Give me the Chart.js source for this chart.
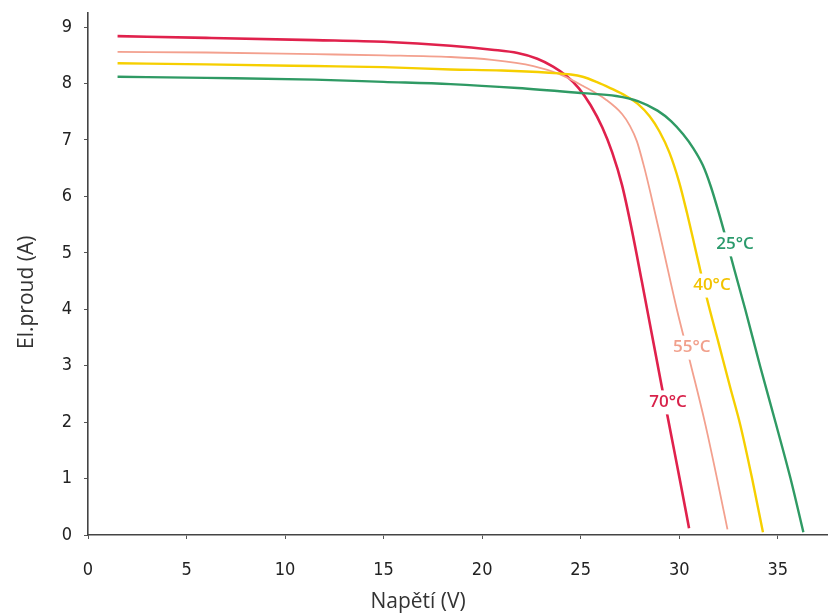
<!DOCTYPE html>
<html lang="cs">
<head>
<meta charset="utf-8">
<title>VA charakteristika</title>
<script src="https://cdn.jsdelivr.net/npm/chart.js@4/dist/chart.umd.min.js"></script>
<style>
  html, body { margin: 0; padding: 0; background: #fff; }
  #wrap { width: 830px; height: 616px; }
</style>
</head>
<body>
<div id="wrap"><canvas id="chart" width="830" height="616"></canvas></div>
<script>
"use strict";

// I-V curves of a PV module at four cell temperatures
const v25 = [1.5, 6, 11.5, 15, 18.4, 21.8, 25.1, 26.8, 27.9, 28.9, 29.6, 30.2, 30.7, 31.2, 31.6, 32.0, 32.4, 32.8, 33.35, 34.1, 34.9, 35.65, 36.3];
const i25 = [8.12, 8.10, 8.07, 8.03, 7.99, 7.92, 7.83, 7.78, 7.69, 7.52, 7.33, 7.10, 6.86, 6.55, 6.18, 5.72, 5.22, 4.70, 4.00, 3.00, 1.98, 1.00, 0.05];

const v40 = [1.5, 6, 11.5, 15, 18.4, 21, 23.4, 24.5, 25.1, 25.8, 26.5, 27.3, 27.9, 28.5, 29.0, 29.5, 30.0, 30.4, 30.8, 31.4, 32.0, 32.6, 33.1, 33.7, 34.25];
const i40 = [8.36, 8.34, 8.31, 8.29, 8.25, 8.23, 8.19, 8.16, 8.12, 8.03, 7.92, 7.78, 7.64, 7.42, 7.15, 6.78, 6.25, 5.70, 5.10, 4.20, 3.40, 2.60, 1.95, 1.00, 0.05];

const v55 = [1.5, 6, 11.5, 15, 18.4, 20.5, 22.6, 23.9, 25.1, 26.3, 27.1, 27.5, 27.85, 28.2, 28.55, 29.2, 29.88, 30.6, 31.3, 31.92, 32.45];
const i55 = [8.56, 8.55, 8.52, 8.50, 8.47, 8.42, 8.31, 8.17, 7.96, 7.71, 7.46, 7.25, 6.98, 6.55, 6.05, 5.05, 4.00, 3.00, 2.00, 1.00, 0.10];

const v70 = [1.5, 6, 11.5, 15, 18.4, 20.5, 21.8, 22.8, 23.6, 24.3, 24.9, 25.5, 26.1, 26.6, 27.1, 27.6, 28.1, 28.6, 29.1, 29.6, 30.05, 30.5];
const i70 = [8.84, 8.81, 8.77, 8.74, 8.67, 8.60, 8.54, 8.44, 8.30, 8.13, 7.92, 7.62, 7.22, 6.78, 6.20, 5.40, 4.50, 3.58, 2.66, 1.76, 0.95, 0.12];

// curve labels, anchored in data units (V, A)
const labelText = ["25°C", "40°C", "55°C", "70°C"];
const labelV = [32.83, 31.66, 30.64, 29.43];
const labelI = [5.15, 4.42, 3.32, 2.35];

const lineColors = ["#2f9a64", "#f6cf00", "#f3a08e", "#e0214c"];
const textColors = ["#2a9a6c", "#f2c300", "#f1a08c", "#d8224a"];
const widths = [2.4, 2.4, 1.8, 2.6];

const xTitle = "Napětí (V)";
const yTitle = "El.proud (A)";

const pts = (vs, is) => vs.map((v, k) => ({ x: v, y: is[k] }));
const series = [pts(v25, i25), pts(v40, i40), pts(v55, i55), pts(v70, i70)];

const curveLabels = {
  id: "curveLabels",
  afterDatasetsDraw(chart) {
    const { ctx, scales: { x, y } } = chart;
    ctx.save();
    ctx.font = "600 17px 'Open Sans', sans-serif";
    ctx.textAlign = "center";
    ctx.textBaseline = "middle";
    labelText.forEach((t, k) => {
      const px = x.getPixelForValue(labelV[k]);
      const py = y.getPixelForValue(labelI[k]);
      const w = ctx.measureText(t).width;
      ctx.fillStyle = "#fff";
      ctx.fillRect(px - w / 2 - 2, py - 12, w + 4, 24);
      ctx.fillStyle = textColors[k];
      ctx.fillText(t, px, py);
    });
    ctx.restore();
  },
};

const axisTitles = {
  id: "axisTitles",
  afterDraw(chart) {
    const { ctx, scales: { x, y } } = chart;
    ctx.save();
    ctx.fillStyle = "#333";
    ctx.font = "21px 'Open Sans', sans-serif";
    ctx.textAlign = "center";
    ctx.textBaseline = "middle";
    ctx.fillText(xTitle, x.getPixelForValue(16.75), 602);
    ctx.translate(27, y.getPixelForValue(4.3));
    ctx.rotate(-Math.PI / 2);
    ctx.fillText(yTitle, 0, 0);
    ctx.restore();
  },
};

const tickFont = { family: "'DejaVu Sans Condensed', 'Liberation Sans Narrow', sans-serif", size: 18 };

new Chart(document.getElementById("chart"), {
  type: "line",
  data: {
    datasets: series.map((d, k) => ({
      label: labelText[k],
      data: d,
      borderColor: lineColors[k],
      borderWidth: widths[k],
      pointRadius: 0,
      fill: false,
      cubicInterpolationMode: "monotone",
    })),
  },
  options: {
    responsive: false,
    animation: false,
    events: [],
    layout: { padding: { top: 13, right: 3, left: 0, bottom: 0 } },
    plugins: { legend: { display: false }, tooltip: { enabled: false } },
    scales: {
      x: {
        type: "linear",
        min: 0,
        max: 37.5,
        border: { color: "#444", width: 1.6 },
        grid: { drawOnChartArea: false, tickLength: 4, color: "#555" },
        ticks: { stepSize: 5, includeBounds: false, color: "#222", font: tickFont, padding: 21, maxRotation: 0 },
        afterFit: (s) => { s.height = 81; s.paddingLeft = 0; s.paddingRight = 0; },
      },
      y: {
        min: 0,
        max: 9.25,
        border: { color: "#444", width: 1.6 },
        grid: { drawOnChartArea: false, tickLength: 4, color: "#555" },
        ticks: { stepSize: 1, includeBounds: false, color: "#222", font: tickFont, padding: 12 },
        afterFit: (s) => { s.width = 88; s.paddingTop = 0; s.paddingBottom = 0; },
      },
    },
  },
  plugins: [curveLabels, axisTitles],
});
</script>
</body>
</html>
